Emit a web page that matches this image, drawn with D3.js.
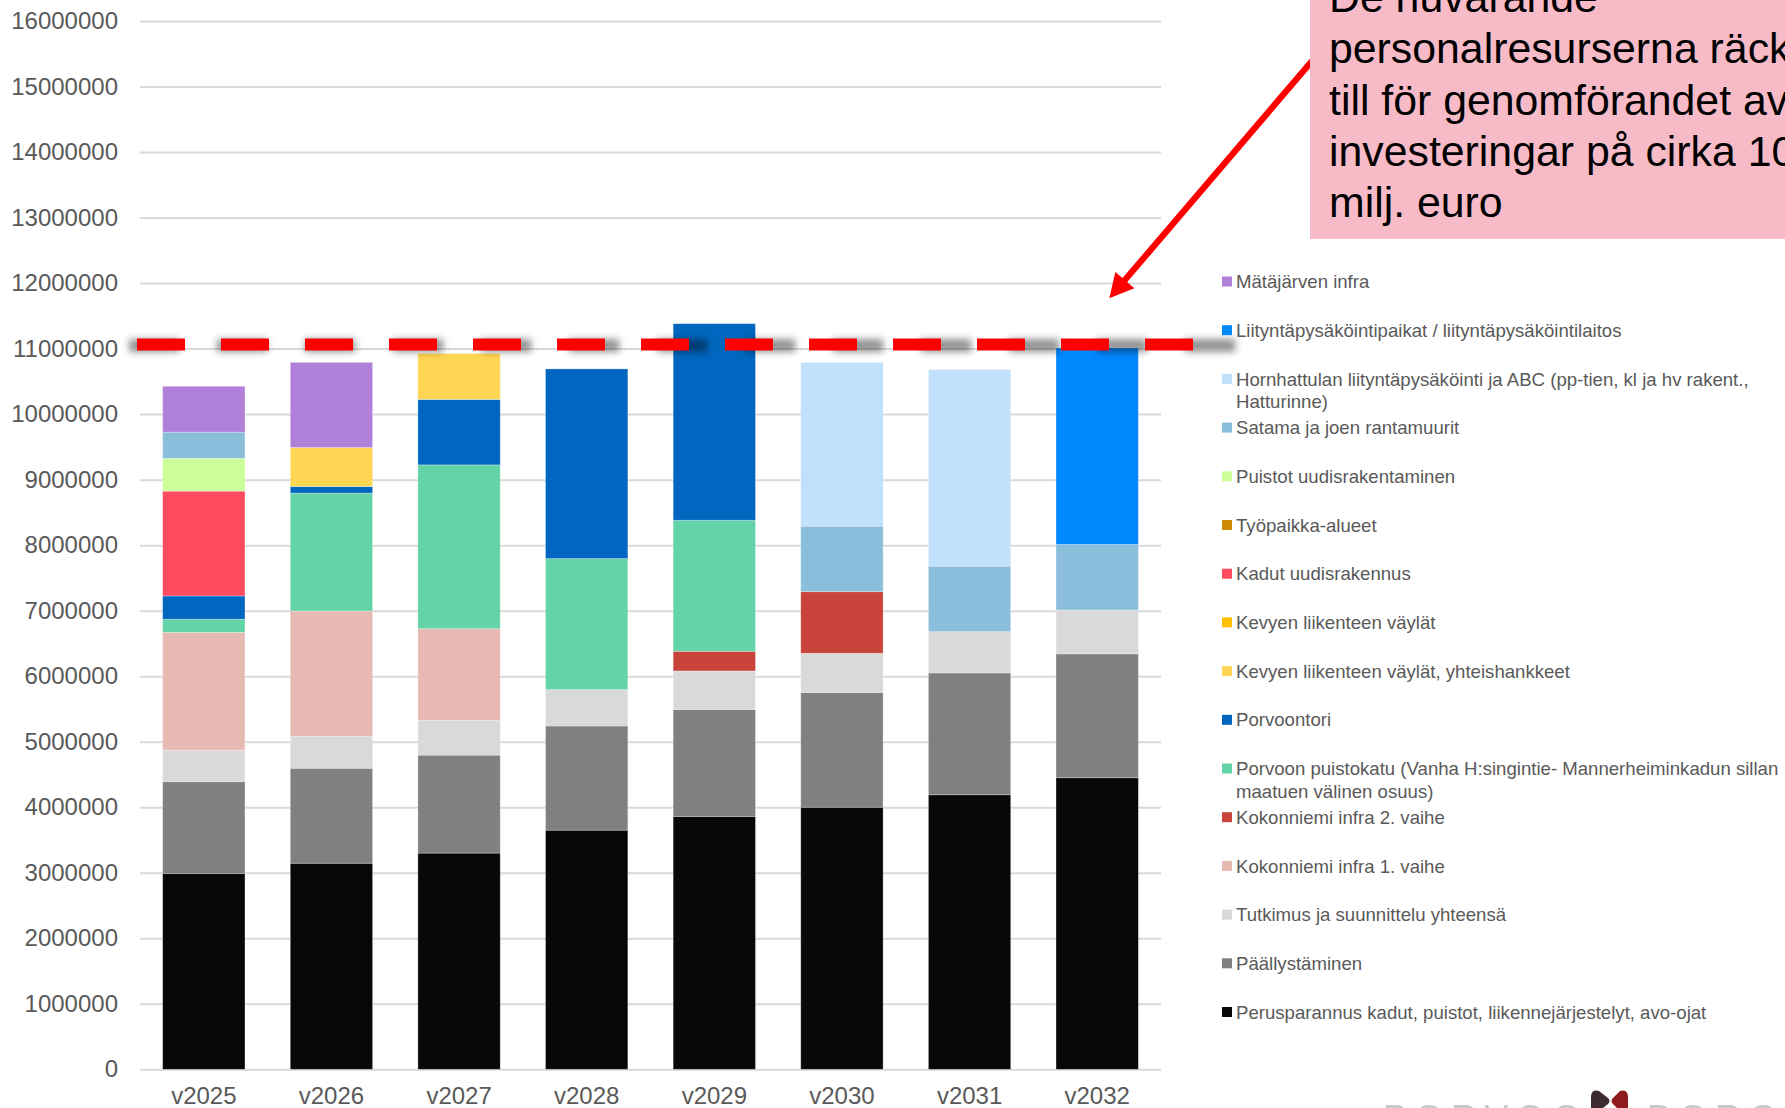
<!DOCTYPE html>
<html>
<head>
<meta charset="utf-8">
<script src="https://cdn.jsdelivr.net/npm/d3@7/dist/d3.min.js"></script>
<style>
  html, body { margin: 0; padding: 0; background: #fff; overflow: hidden; }
  svg { display: block; font-family: "Liberation Sans", Arial, sans-serif; }
</style>
</head>
<body>
<svg id="chart" width="1785" height="1108"></svg>
<script>
// Years on the x axis
const years = ["v2025", "v2026", "v2027", "v2028", "v2029", "v2030", "v2031", "v2032"];

// Investment per project group and year (euro), stacked bottom to top
const perusparannus   = [2990000, 3145000, 3300000, 3650000, 3860000, 4000000, 4190000, 4450000];
const paallystaminen  = [1400000, 1450000, 1495000, 1590000, 1630000, 1750000, 1860000, 1890000];
const tutkimus        = [480000, 490000, 530000, 555000, 590000, 600000, 630000, 670000];
const kokonniemi1     = [1800000, 1910000, 1400000, 0, 0, 0, 0, 0];
const kokonniemi2     = [0, 0, 0, 0, 300000, 940000, 0, 0];
const puistokatu      = [200000, 1800000, 2500000, 2000000, 2000000, 0, 0, 0];
const porvoontori     = [355000, 100000, 1000000, 2895000, 3000000, 0, 0, 0];
const kevytYhteis     = [0, 595000, 700000, 0, 0, 0, 0, 0];
const kevyt           = [0, 0, 0, 0, 0, 0, 0, 0];
const kadut           = [1600000, 0, 0, 0, 0, 0, 0, 0];
const tyopaikka       = [0, 0, 0, 0, 0, 0, 0, 0];
const puistot         = [500000, 0, 0, 0, 0, 0, 0, 0];
const satama          = [400000, 0, 0, 0, 0, 1000000, 1000000, 1000000];
const hornhattula     = [0, 0, 0, 0, 0, 2500000, 3000000, 0];
const liitynta        = [0, 0, 0, 0, 0, 0, 0, 3000000];
const matajarvi       = [700000, 1300000, 0, 0, 0, 0, 0, 0];

// Series labels (legend lines) in stacking order
const seriesLabels = [
  ["Perusparannus kadut, puistot, liikennejärjestelyt, avo-ojat"],
  ["Päällystäminen"],
  ["Tutkimus ja suunnittelu yhteensä"],
  ["Kokonniemi infra 1. vaihe"],
  ["Kokonniemi infra 2. vaihe"],
  ["Porvoon puistokatu (Vanha H:singintie- Mannerheiminkadun sillan", "maatuen välinen osuus)"],
  ["Porvoontori"],
  ["Kevyen liikenteen väylät, yhteishankkeet"],
  ["Kevyen liikenteen väylät"],
  ["Kadut uudisrakennus"],
  ["Työpaikka-alueet"],
  ["Puistot uudisrakentaminen"],
  ["Satama ja joen rantamuurit"],
  ["Hornhattulan liityntäpysäköinti ja ABC (pp-tien, kl ja hv rakent.,", "Hatturinne)"],
  ["Liityntäpysäköintipaikat / liityntäpysäköintilaitos"],
  ["Mätäjärven infra"]
];
const seriesValues = [perusparannus, paallystaminen, tutkimus, kokonniemi1, kokonniemi2,
  puistokatu, porvoontori, kevytYhteis, kevyt, kadut, tyopaikka, puistot, satama,
  hornhattula, liitynta, matajarvi];
const seriesColors = ["#080808", "#808080", "#d9d9d9", "#e6b9b3", "#c8443a",
  "#64d3a8", "#0066bf", "#ffd653", "#ffc000", "#ff4b5f", "#cc8a00", "#ccff99",
  "#8abeda", "#c0e0fc", "#0088ff", "#b180d8"];

// Y axis ticks
const yTicks = d3.range(0, 16000001, 1000000);

// Staffing capacity limit shown as a dashed line
const capacityLimit = 11000000;

// Annotation text
const noteLines = ["De nuvarande", "personalresurserna räcker", "till för genomförandet av",
  "investeringar på cirka 10", "milj. euro"];

// ---------- layout ----------
const svg = d3.select("#chart");
const plot = { left: 140, right: 1161, top: 21, bottom: 1069.3 };

const x = d3.scaleBand().domain(years).range([plot.left, plot.right])
  .paddingInner(0.355).paddingOuter(0.1775);
const y = d3.scaleLinear().domain([0, 16000000]).range([plot.bottom, plot.top]);

// Stack table
const keys = seriesValues.map((_, i) => "s" + i);
const table = years.map((yr, j) => {
  const row = { year: yr };
  seriesValues.forEach((arr, i) => row["s" + i] = arr[j]);
  return row;
});
const stacked = d3.stack().keys(keys)(table);

// Gridlines
svg.append("g")
  .attr("transform", `translate(${plot.left},0)`)
  .call(d3.axisLeft(y).tickValues(yTicks).tickSize(-(plot.right - plot.left)).tickFormat(""))
  .call(g => g.select(".domain").remove())
  .call(g => g.selectAll("line").attr("stroke", "#d9d9d9").attr("stroke-width", 2));

// Y axis labels
svg.append("g")
  .attr("transform", `translate(118,0)`)
  .call(d3.axisLeft(y).tickValues(yTicks).tickSize(0).tickPadding(0).tickFormat(d3.format("d")))
  .call(g => g.select(".domain").remove())
  .call(g => g.selectAll("text").attr("fill", "#595959").attr("font-size", 24)
    .attr("font-family", "Liberation Sans, Arial, sans-serif"));

// X axis labels
svg.append("g")
  .attr("transform", `translate(0,${plot.bottom})`)
  .call(d3.axisBottom(x).tickSize(0).tickPadding(0))
  .call(g => g.select(".domain").remove())
  .call(g => g.selectAll("text").attr("fill", "#595959").attr("font-size", 24)
    .attr("font-family", "Liberation Sans, Arial, sans-serif")
    .attr("dy", null).attr("y", 35));

// Bars
svg.append("g").selectAll("g")
  .data(stacked)
  .join("g")
  .attr("fill", (d, i) => seriesColors[i])
  .selectAll("rect")
  .data(d => d.filter(p => p[1] - p[0] > 0))
  .join("rect")
  .attr("x", d => x(d.data.year))
  .attr("width", x.bandwidth())
  .attr("y", d => y(d[1]))
  .attr("height", d => y(d[0]) - y(d[1]))
  .attr("stroke", "#ffffff")
  .attr("stroke-opacity", 0.35)
  .attr("stroke-width", 0.8);

// Dashed capacity line with a soft shadow
const defs = svg.append("defs");
defs.append("filter").attr("id", "soft")
  .attr("filterUnits", "userSpaceOnUse")
  .attr("x", 0).attr("y", 280).attr("width", 1400).attr("height", 130)
  .append("feGaussianBlur").attr("stdDeviation", 3.5);

const limitY = y(capacityLimit) - 4;
const dashStart = 137, dashEnd = 1193;
const shadowScale = 1.0476;
svg.append("line")
  .attr("x1", dashStart - 8).attr("x2", dashStart - 8 + (dashEnd - dashStart) * shadowScale)
  .attr("y1", limitY + 1).attr("y2", limitY + 1)
  .attr("stroke", "#000").attr("stroke-opacity", 0.42)
  .attr("stroke-width", 13)
  .attr("stroke-dasharray", `${48 * shadowScale} ${36 * shadowScale}`)
  .attr("filter", "url(#soft)");
svg.append("line")
  .attr("x1", dashStart).attr("x2", dashEnd)
  .attr("y1", limitY).attr("y2", limitY)
  .attr("stroke", "#ff0000").attr("stroke-width", 12)
  .attr("stroke-dasharray", "48 36");

// Legend (top entry = last stacked series)
const legend = svg.append("g").attr("transform", "translate(1222,0)");
const legendItems = seriesLabels.map((lab, i) => ({ lab, color: seriesColors[i] })).reverse();
legendItems.forEach((d, k) => {
  const cy = 281.5 + k * 48.7;
  legend.append("rect").attr("x", 0).attr("y", cy - 5).attr("width", 10).attr("height", 10)
    .attr("fill", d.color);
  const t = legend.append("text").attr("x", 14).attr("y", cy + 6.6)
    .attr("font-size", 18.6).attr("fill", "#595959");
  d.lab.forEach((line, li) => {
    t.append("tspan").attr("x", 14).attr("dy", li === 0 ? 0 : 22.6).text(line);
  });
});

// Arrow pointing at the capacity line
const tail = [1312, 61], tip = [1109.3, 298.3];
const dx = tip[0] - tail[0], dy = tip[1] - tail[1];
const len = Math.hypot(dx, dy), ux = dx / len, uy = dy / len;
const headLen = 24, headHalf = 12.5;
const base = [tip[0] - ux * headLen, tip[1] - uy * headLen];
svg.append("line")
  .attr("x1", tail[0]).attr("y1", tail[1])
  .attr("x2", base[0] + ux * 2).attr("y2", base[1] + uy * 2)
  .attr("stroke", "#ff0000").attr("stroke-width", 6.3);
svg.append("path")
  .attr("d", d3.line()([
    tip,
    [base[0] - uy * headHalf, base[1] + ux * headHalf],
    [base[0] + uy * headHalf, base[1] - ux * headHalf]
  ]) + "Z")
  .attr("fill", "#ff0000");

// Annotation box
svg.append("rect").attr("x", 1310).attr("y", -2).attr("width", 480).attr("height", 241)
  .attr("fill", "#f7bbc7");
const note = svg.append("text").attr("font-size", 42.8).attr("fill", "#000");
noteLines.forEach((line, i) => {
  note.append("tspan").attr("x", 1329).attr("y", 12.3 + i * 51.1).text(line);
});

// Town logo at the bottom edge
const logo = svg.append("g");
logo.append("text").attr("x", 1383).attr("y", 1131).attr("font-size", 36)
  .attr("letter-spacing", 8).attr("fill", "#c8c8c8").text("PORVOO");
logo.append("text").attr("x", 1647).attr("y", 1131).attr("font-size", 36)
  .attr("letter-spacing", 8).attr("fill", "#c8c8c8").text("BORGÅ");
logo.append("path")
  .attr("d", "M1591,1096 Q1592,1089 1599,1091 L1608,1098 Q1611,1101 1608,1104 L1598,1112 Q1591,1114 1591,1106 Z")
  .attr("fill", "#3d2a33");
logo.append("path")
  .attr("d", "M1628,1096 Q1627,1089 1620,1091 L1613,1098 Q1610,1101 1613,1104 L1621,1112 Q1628,1114 1628,1106 Z")
  .attr("fill", "#8e1c1f");
</script>
</body>
</html>
